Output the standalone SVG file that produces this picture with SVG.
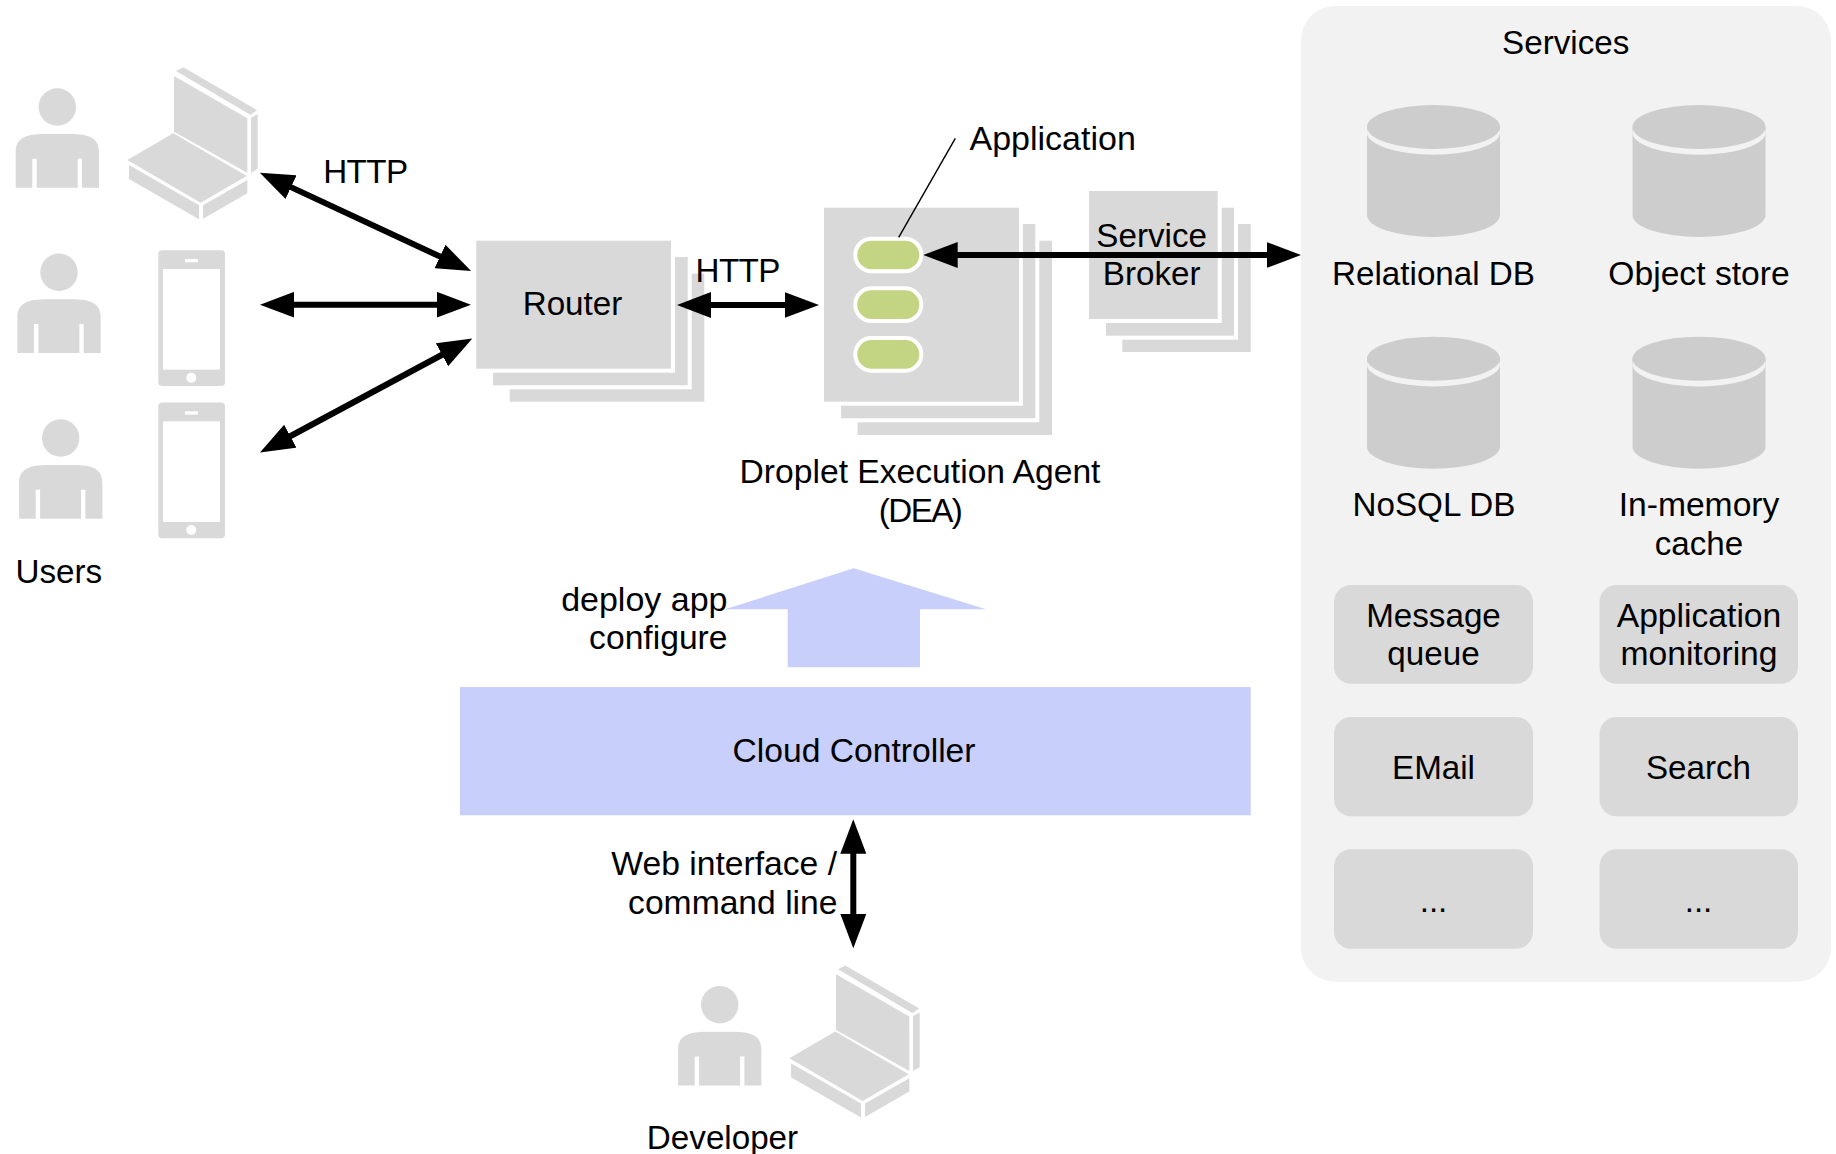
<svg xmlns="http://www.w3.org/2000/svg" width="1836" height="1154" viewBox="0 0 1836 1154">
<style>
text{font-family:"Liberation Sans",Arial,Helvetica,sans-serif;font-size:33.2px;fill:#000}
.l{font-size:33.65px}
.m{text-anchor:middle}.e{text-anchor:end}
.g{fill:#d9d9d9}
.o{fill:#d9d9d9;stroke:#fff;stroke-width:8;paint-order:stroke}
.b{fill:#c8cffb}
.a{stroke:#000;stroke-width:6;fill:none;marker-start:url(#h);marker-end:url(#h)}
.p{fill:#c3d482;stroke:#fff;stroke-width:8;paint-order:stroke}
.c{fill:#cdcdcd}
.h{letter-spacing:-0.6px}
</style>
<defs>
<marker id="h" markerUnits="userSpaceOnUse" markerWidth="34.4" markerHeight="26" viewBox="0 0 34.4 26" refX="14.4" refY="13" orient="auto-start-reverse"><path d="M0,0L34.4,13L0,26Z" fill="#000"/></marker>
<g id="person" class="g"><circle cx="57.3" cy="107" r="18.7"/><path d="M15.7,187.7V152C15.7,138 26,134 45,134H70C89,134 99,138 99,152V187.7H82V158.7H77.7V187.7H36.7V158.7H32.3V187.7Z"/></g>
<g id="laptop" class="g"><polygon points="174,76 247.3,118.3 247.3,172.7 174,131.7"/><polygon points="176,71 183.3,67.3 257.3,110.3 250.3,114.7"/><polygon points="251,118 257.7,114 257.7,169 251,172.7"/><polygon points="127.3,160 173.3,133.3 246.7,176 200.7,202.7"/><polygon points="129,165 199,205.3 199,219.3 129,179"/><polygon points="203,205.3 247.3,180 247.3,193.3 203,218.7"/></g>
<g id="phone"><rect class="g" x="158.3" y="250.3" width="66.7" height="135.7" rx="4"/><rect x="163" y="269" width="57" height="100.7" fill="#fff"/><rect x="185" y="259" width="13" height="3.3" fill="#fff"/><circle cx="191.3" cy="377.7" r="5" fill="#fff"/></g>
<g id="cyl"><path class="c" d="M0,22V110A66.5,22 0 0 0 133,110V22Z"/><ellipse cx="66.5" cy="27.7" rx="66.5" ry="22" fill="#f2f2f2"/><ellipse class="c" cx="66.5" cy="22" rx="66.5" ry="22"/></g>
</defs>
<rect width="1836" height="1154" fill="#fff"/>
<g id="services">
<rect x="1301" y="6" width="530" height="975.7" rx="34" fill="#f2f2f2"/>
<text class="m" x="1565.7" y="53.5">Services</text>
</g>
<g id="relational-db"><use href="#cyl" x="1367" y="105"/><text class="m" x="1433.5" y="285">Relational DB</text></g>
<g id="object-store"><use href="#cyl" x="1632.5" y="105"/><text class="m l" x="1699" y="285">Object store</text></g>
<g id="nosql-db"><use href="#cyl" x="1367" y="336.7"/><text class="m" x="1434" y="515.7">NoSQL DB</text></g>
<g id="in-memory-cache"><use href="#cyl" x="1632.5" y="336.7"/><text class="m l" x="1699" y="515.7">In-memory</text><text class="m" x="1699" y="554.7">cache</text></g>
<g id="message-queue"><rect class="g" x="1334" y="585" width="199" height="98.7" rx="17"/><text class="m" x="1433.5" y="627">Message</text><text class="m" x="1433.5" y="665">queue</text></g>
<g id="application-monitoring"><rect class="g" x="1599.5" y="585" width="198.5" height="98.7" rx="17"/><text class="m l" x="1699" y="627">Application</text><text class="m l" x="1699" y="665">monitoring</text></g>
<g id="email"><rect class="g" x="1334" y="717" width="199" height="99.3" rx="17"/><text class="m" x="1433.5" y="778.5">EMail</text></g>
<g id="search"><rect class="g" x="1599.5" y="717" width="198.5" height="99.3" rx="17"/><text class="m" x="1698.5" y="778.5">Search</text></g>
<g id="more-1"><rect class="g" x="1334" y="849.3" width="199" height="99.4" rx="17"/><text class="m" x="1433.5" y="911.7">...</text></g>
<g id="more-2"><rect class="g" x="1599.5" y="849.3" width="198.5" height="99.4" rx="17"/><text class="m" x="1698.5" y="911.7">...</text></g>

<g id="users">
<use href="#person"/><use href="#laptop"/>
<use href="#person" x="1.7" y="165.3"/><use href="#phone"/>
<use href="#person" x="3.4" y="331"/><use href="#phone" y="152.3"/>
<text x="15.5" y="582.7">Users</text>
</g>
<g id="router">
<rect class="g" x="509.7" y="273.7" width="194.6" height="128"/>
<rect class="o" x="493" y="257" width="194.7" height="128.3"/>
<rect class="o" x="476.3" y="240.7" width="194.7" height="128"/>
<text class="m" x="572.5" y="315">Router</text>
</g>
<g id="dea">
<rect class="g" x="857.6" y="240.7" width="194.4" height="194.3"/>
<rect class="o" x="841" y="224" width="194.3" height="194.3"/>
<rect class="o" x="824" y="207.7" width="195" height="194"/>
<rect class="p" x="857.3" y="240.7" width="62" height="28.6" rx="14.3"/>
<rect class="p" x="857.3" y="290.3" width="62" height="28.7" rx="14.3"/>
<rect class="p" x="857.3" y="340" width="62" height="28.7" rx="14.3"/>
<text class="m l" x="920" y="483.2">Droplet Execution Agent</text>
<text class="m" x="920" y="522" style="letter-spacing:-1.6px">(DEA)</text>
</g>
<g id="service-broker">
<rect class="g" x="1122.3" y="224" width="128.4" height="128"/>
<rect class="o" x="1106" y="207.7" width="128" height="128"/>
<rect class="o" x="1089" y="191" width="128.7" height="128"/>
<text class="m" x="1151.7" y="246.7">Service</text>
<text class="m" x="1151.7" y="285.2">Broker</text>
</g>
<g id="application-label"><line x1="955.3" y1="138.3" x2="898.7" y2="237.3" stroke="#000" stroke-width="1.4"/><text x="969.5" y="150" style="font-size:34px">Application</text></g>
<g id="cloud-controller">
<rect class="b" x="460" y="687" width="790.7" height="128.3"/>
<text class="m l" x="854" y="762.4">Cloud Controller</text>
</g>
<g id="deploy-arrow">
<polygon class="b" points="853.7,568.3 986,609.3 920,609.3 920,667.3 787.7,667.3 787.7,609.3 725,609.3"/>
<text class="e" x="727.5" y="611" style="font-size:34px">deploy app</text>
<text class="e l" x="727.5" y="649.3">configure</text>
</g>
<g id="developer">
<use href="#person" x="662.4" y="897.7"/><use href="#laptop" x="662" y="898.3"/>
<text class="m" x="722.5" y="1148.8">Developer</text>
</g>
<g id="connector-labels">
<text class="m h" x="365.3" y="182.7">HTTP</text>
<text class="m h" x="737.7" y="281.7">HTTP</text>
<text class="e l" x="837" y="875.4">Web interface /</text>
<text class="e l" x="837.5" y="914.4">command line</text>
</g>
<g id="connectors">
<line class="a" x1="278" y1="181.1" x2="453" y2="262.6"/>
<line class="a" x1="280" y1="304.7" x2="451" y2="304.7"/>
<line class="a" x1="277.6" y1="443" x2="454.7" y2="348"/>
<line class="a" x1="696.7" y1="305" x2="799" y2="305"/>
<line class="a" x1="943.3" y1="255" x2="1281" y2="255"/>
<line class="a" x1="853.3" y1="839.3" x2="853.3" y2="928.3"/>
</g>
</svg>
